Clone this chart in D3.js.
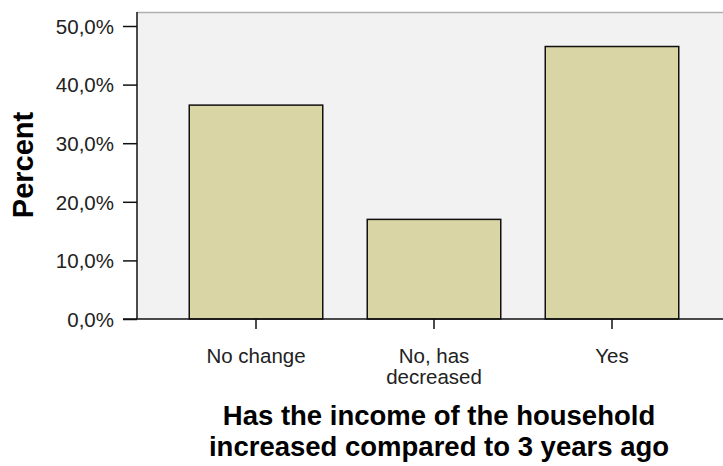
<!DOCTYPE html>
<html><head><meta charset="utf-8">
<script src="https://cdn.jsdelivr.net/npm/d3@7"></script>
<style>body{margin:0;background:#fff}svg{display:block;font-family:"Liberation Sans",Arial,sans-serif}</style>
</head><body><svg id="c" width="723" height="466"></svg>
<script>
const categories = ["No change", "No, has decreased", "Yes"];
const categoryLines = [["No change"], ["No, has", "decreased"], ["Yes"]];
const percents = [36.5, 17.0, 46.5];
const yTicks = [0, 10, 20, 30, 40, 50];

const svg = d3.select("#c");
const plotLeft = 137, plotRight = 740, plotTop = 12, plotBottom = 319;

const x = d3.scaleBand().domain(categories).range([167, 701]).paddingInner(0.25).paddingOuter(0.125);
const y = d3.scaleLinear().domain([0, 50]).range([plotBottom, 26]);

svg.append("rect").attr("x", plotLeft).attr("y", plotTop).attr("width", plotRight - plotLeft).attr("height", plotBottom - plotTop).attr("fill", "#f2f2f2");
svg.append("line").attr("x1", plotLeft).attr("x2", plotRight).attr("y1", plotTop + 0.5).attr("y2", plotTop + 0.5).attr("stroke", "#b0b0b0").attr("stroke-width", 1.5);

svg.append("g").selectAll("rect").data(percents).join("rect")
  .attr("x", (d, i) => x(categories[i]))
  .attr("y", d => y(d))
  .attr("width", x.bandwidth())
  .attr("height", d => y(0) - y(d))
  .attr("fill", "#d9d5a5").attr("stroke", "#111").attr("stroke-width", 1.5);

const yAxis = svg.append("g").attr("transform", `translate(${plotLeft},0)`)
  .call(d3.axisLeft(y).tickValues(yTicks).tickSize(14).tickPadding(9).tickFormat(d => d.toFixed(1).replace(".", ",") + "%"));
yAxis.select(".domain").attr("d", `M0,${plotTop}V${plotBottom}`).attr("stroke", "#111").attr("stroke-width", 1.5);
yAxis.selectAll(".tick line").attr("stroke", "#111").attr("stroke-width", 1.5);
yAxis.selectAll(".tick text").attr("font-size", 20.5).attr("fill", "#222").attr("dy", "0.36em")
  .attr("font-family", "Liberation Sans, Arial, sans-serif");

const xAxis = svg.append("g").attr("transform", `translate(0,${plotBottom})`)
  .call(d3.axisBottom(x).tickSize(10).tickFormat(""));
xAxis.select(".domain").attr("d", `M${123},0H${plotRight}`).attr("stroke", "#111").attr("stroke-width", 1.5);
xAxis.selectAll(".tick line").attr("stroke", "#111").attr("stroke-width", 1.5);
xAxis.selectAll(".tick").each(function(d, i) {
  const t = d3.select(this).append("text").attr("fill", "#222").attr("font-size", 20.5).attr("text-anchor", "middle")
    .attr("font-family", "Liberation Sans, Arial, sans-serif");
  categoryLines[i].forEach((ln, j) => t.append("tspan").attr("x", 0).attr("y", 44 + j * 21).text(ln));
});

svg.append("text").attr("transform", "translate(33,165) rotate(-90)").attr("text-anchor", "middle")
  .attr("font-size", 29).attr("font-weight", "bold").attr("fill", "#000").text("Percent");

const titleLines = ["Has the income of the household", "increased compared to 3 years ago"];
svg.append("g").selectAll("text").data(titleLines).join("text")
  .attr("text-anchor", "middle").attr("font-size", 27.5).attr("font-weight", "bold").attr("fill", "#000")
  .attr("x", 439).attr("y", (d, j) => 425 + j * 31).text(d => d);
</script></body></html>
